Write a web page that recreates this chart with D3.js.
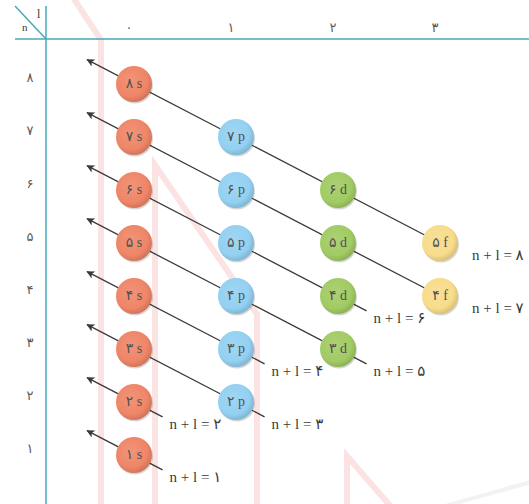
<!DOCTYPE html>
<html>
<head>
  <meta charset="utf-8">
  <script src="https://cdn.jsdelivr.net/npm/d3@7"></script>
  <style>
    html, body {
      margin: 0;
      background: #fff;
    }

    svg {
      display: block;
      font-family: "Liberation Serif", "DejaVu Sans", serif;
    }
  </style>
</head>
<body>
  <div id="chart"></div>

  <script>
  // subshells along the top (l = 0..3) and shells down the side (n = 1..8)
  var lValues = [0, 1, 2, 3],
      letters = ["s", "p", "d", "f"],
      nValues = [8, 7, 6, 5, 4, 3, 2, 1];

  // orbitals drawn, as [n, l]
  var orbitals = [
    [8, 0], [7, 0], [6, 0], [5, 0], [4, 0], [3, 0], [2, 0], [1, 0],
    [7, 1], [6, 1], [5, 1], [4, 1], [3, 1], [2, 1],
    [6, 2], [5, 2], [4, 2], [3, 2],
    [5, 3], [4, 3]
  ];

  // diagonals of equal n + l
  var sums = [1, 2, 3, 4, 5, 6, 7, 8];

  var colors = ["#ef8567", "#93d0f1", "#a1cb63", "#f7dc8b"];

  var faDigits = "۰۱۲۳۴۵۶۷۸۹";
  function fa(v) { return String(v).replace(/\d/g, function(c) { return faDigits[+c]; }); }

  var width = 529, height = 504,
      axisColor = "#47a9ba",
      ink = "#3a3a3a",
      soft = "#5a5a5a";

  var x = d3.scaleLinear().domain([0, 3]).range([134, 440]),
      y = d3.scaleLinear().domain([1, 8]).range([455, 84]),
      r = 18;

  var svg = d3.select("#chart").append("svg")
      .attr("width", width)
      .attr("height", height);

  var defs = svg.append("defs");

  defs.append("marker")
      .attr("id", "arrow")
      .attr("viewBox", "0 0 10 10")
      .attr("refX", 9)
      .attr("refY", 5)
      .attr("markerWidth", 10)
      .attr("markerHeight", 8)
      .attr("markerUnits", "userSpaceOnUse")
      .attr("orient", "auto")
    .append("path")
      .attr("d", "M0,0 L10,5 L0,10 L2.5,5 Z")
      .attr("fill", ink);

  colors.forEach(function(c, i) {
    var g = defs.append("radialGradient")
        .attr("id", "grad" + i)
        .attr("cx", "42%").attr("cy", "40%").attr("r", "60%");
    g.append("stop").attr("offset", "0%").attr("stop-color", d3.interpolateRgb(c, "#fff")(0.12));
    g.append("stop").attr("offset", "75%").attr("stop-color", c);
    g.append("stop").attr("offset", "100%").attr("stop-color", d3.interpolateRgb(c, "#000")(0.12));
  });

  // faint pink watermark strokes behind the chart
  var mark = svg.append("g")
      .attr("fill", "none")
      .attr("stroke", "#fbe3e3")
      .attr("stroke-width", 6);
  mark.append("path").attr("d", "M72,-4 L101,40 L101,504");
  mark.append("path").attr("d", "M155,504 L155,165 L257,314 L257,504");
  mark.append("path").attr("d", "M347,504 L347,456 L392,508");
  svg.append("path")
      .attr("d", "M445,506 L531,482")
      .attr("stroke", "#f2f2f2")
      .attr("stroke-width", 4);

  // header axes
  svg.append("line")
      .attr("x1", 15).attr("y1", 39).attr("x2", width).attr("y2", 39)
      .attr("stroke", axisColor).attr("stroke-width", 1.5);
  svg.append("line")
      .attr("x1", 46).attr("y1", 6).attr("x2", 46).attr("y2", height)
      .attr("stroke", axisColor).attr("stroke-width", 1.5);
  svg.append("line")
      .attr("x1", 15).attr("y1", 6).attr("x2", 46).attr("y2", 39)
      .attr("stroke", axisColor).attr("stroke-width", 1.5);

  svg.append("text")
      .attr("x", 37).attr("y", 18)
      .attr("font-size", 12).attr("fill", ink)
      .text("l");
  svg.append("text")
      .attr("x", 22).attr("y", 31)
      .attr("font-size", 11).attr("fill", ink)
      .text("n");

  svg.append("g").selectAll("text")
      .data(lValues)
    .enter().append("text")
      .attr("x", function(d) { return x(d) - 5; })
      .attr("y", 27)
      .attr("text-anchor", "middle")
      .attr("dominant-baseline", "central")
      .attr("font-size", 13)
      .attr("fill", soft)
      .text(function(d) { return fa(d); });

  svg.append("g").selectAll("text")
      .data(nValues)
    .enter().append("text")
      .attr("x", 30)
      .attr("y", function(d) { return y(d) - 7; })
      .attr("text-anchor", "middle")
      .attr("dominant-baseline", "central")
      .attr("font-size", 13)
      .attr("fill", soft)
      .text(function(d) { return fa(d); });

  // one diagonal per n + l, from the last orbital up to past the s orbital
  var diagonals = sums.map(function(k) {
    var members = orbitals.filter(function(o) { return o[0] + o[1] === k; }),
        lMax = d3.max(members, function(o) { return o[1]; }),
        tail = k <= 6 ? 0.28 : 0;
    return { k: k, lMax: lMax, nMin: k - lMax, tail: tail };
  });

  svg.append("g").selectAll("line")
      .data(diagonals)
    .enter().append("line")
      .attr("x1", function(d) { return x(d.lMax + d.tail); })
      .attr("y1", function(d) { return y(d.nMin - d.tail); })
      .attr("x2", function(d) { return x(-0.46); })
      .attr("y2", function(d) { return y(d.k + 0.46); })
      .attr("stroke", ink)
      .attr("stroke-width", 1.3)
      .attr("marker-end", "url(#arrow)");

  svg.append("g").selectAll("text")
      .data(diagonals)
    .enter().append("text")
      .attr("x", function(d) { return d.tail ? x(d.lMax + d.tail) + 7 : x(d.lMax) + 32; })
      .attr("y", function(d) { return d.tail ? y(d.nMin - d.tail) + 7 : y(d.nMin) + 12; })
      .attr("dominant-baseline", "central")
      .attr("font-size", 15)
      .attr("fill", ink)
      .attr("direction", "ltr")
      .text(function(d) { return "n + l = " + fa(d.k); });

  // orbital bubbles
  var cell = svg.append("g").selectAll("g")
      .data(orbitals)
    .enter().append("g")
      .attr("transform", function(d) { return "translate(" + x(d[1]) + "," + y(d[0]) + ")"; });

  cell.append("circle")
      .attr("cx", 1).attr("cy", 1.5).attr("r", r)
      .attr("fill", "#000").attr("opacity", 0.16);

  cell.append("circle")
      .attr("r", r)
      .attr("fill", function(d) { return "url(#grad" + d[1] + ")"; });

  cell.append("text")
      .attr("text-anchor", "middle")
      .attr("dominant-baseline", "central")
      .attr("y", -1)
      .attr("font-size", 14)
      .attr("fill", "#505050")
      .attr("direction", "ltr")
      .text(function(d) { return fa(d[0]) + " " + letters[d[1]]; });
  </script>
</body>
</html>
